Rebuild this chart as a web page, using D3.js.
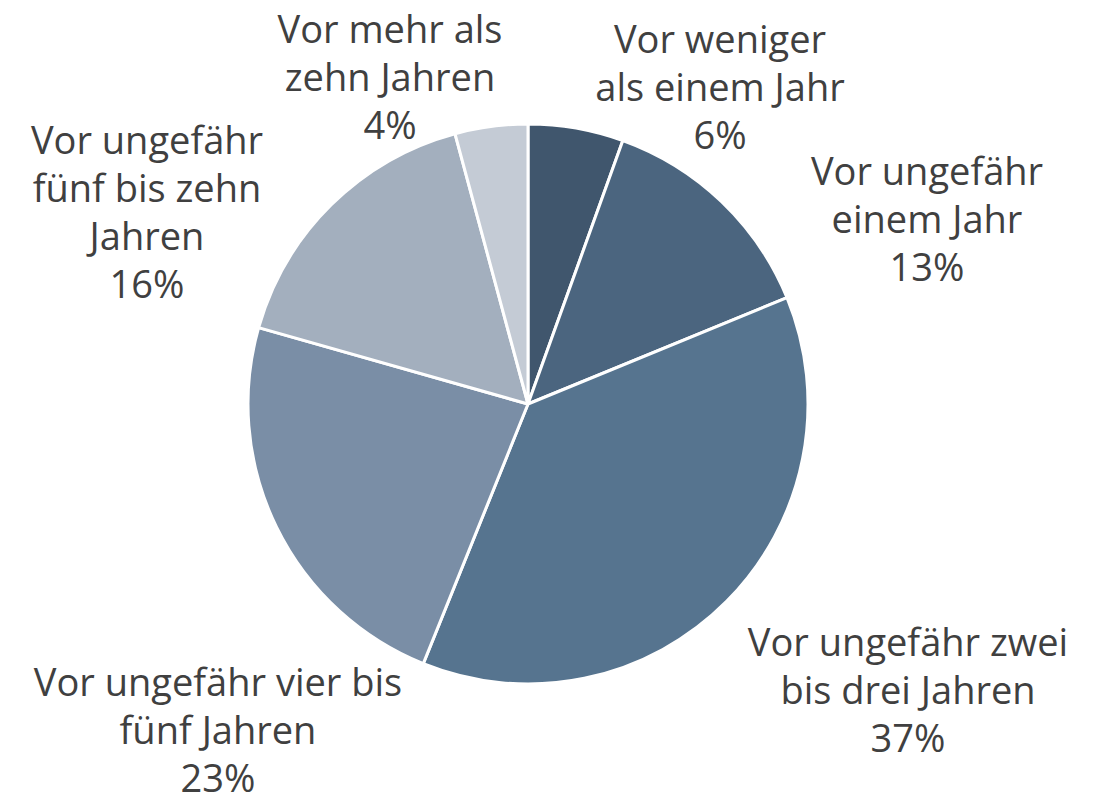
<!DOCTYPE html>
<html>
<head>
<meta charset="utf-8">
<script src="https://cdn.jsdelivr.net/npm/d3@7"></script>
<style>
  body { margin: 0; background: #fff; }
</style>
</head>
<body>
<div id="chart"></div>
<script>
// slices, clockwise from 12 o'clock
var categories = [
  "Vor weniger als einem Jahr",
  "Vor ungefähr einem Jahr",
  "Vor ungefähr zwei bis drei Jahren",
  "Vor ungefähr vier bis fünf Jahren",
  "Vor ungefähr fünf bis zehn Jahren",
  "Vor mehr als zehn Jahren"
];
var shares = [5.5, 13.3, 37.3, 23.3, 16.4, 4.2];
var colors = ["#40566d", "#4b657f", "#56748f", "#7a8ea6", "#a3afbe", "#c4cbd5"];

// how each label is broken into lines (percent line is added below)
var labelLines = [
  ["Vor weniger", "als einem Jahr"],
  ["Vor ungefähr", "einem Jahr"],
  ["Vor ungefähr zwei", "bis drei Jahren"],
  ["Vor ungefähr vier bis", "fünf Jahren"],
  ["Vor ungefähr", "fünf bis zehn", "Jahren"],
  ["Vor mehr als", "zehn Jahren"]
];

var width = 1107, height = 802;
var cx = 528, cy = 404, radius = 280;
var lineH = 48;

// label block centres, relative to the pie centre
var labelPos = [
  [192, -316],
  [399, -184],
  [380, 287],
  [-310, 327],
  [-381, -191],
  [-138, -326]
];

var svg = d3.select("#chart")
  .append("svg")
    .attr("width", width)
    .attr("height", height)
  .append("g")
    .attr("transform", "translate(" + cx + "," + cy + ")");

var pie = d3.pie()
  .value(function(d) { return d; })
  .sort(null);

var arc = d3.arc()
  .innerRadius(0)
  .outerRadius(radius);

var arcs = pie(shares);

svg.selectAll("path.slice")
  .data(arcs)
  .enter()
  .append("path")
    .attr("class", "slice")
    .attr("d", arc)
    .attr("fill", function(d, i) { return colors[i]; })
    .attr("stroke", "#fff")
    .attr("stroke-width", 3)
    .attr("stroke-linejoin", "round");

// labels
var labels = svg.selectAll("text.label")
  .data(arcs)
  .enter()
  .append("text")
    .attr("class", "label")
    .attr("text-anchor", "middle")
    .attr("font-family", "'Open Sans', 'Noto Sans', sans-serif")
    .attr("font-size", "38px")
    .attr("fill", "#404040")
    .attr("transform", function(d, i) {
      return "translate(" + labelPos[i][0] + "," + labelPos[i][1] + ")";
    });

labels.each(function(d, i) {
  var lines = labelLines[i].concat([Math.round(d.data) + "%"]);
  var top = -(lines.length - 1) / 2 * lineH;
  d3.select(this).selectAll("tspan")
    .data(lines)
    .enter()
    .append("tspan")
      .attr("x", 0)
      .attr("y", function(t, j) { return top + j * lineH; })
      .attr("dy", "0.35em")
      .text(function(t) { return t; });
});
</script>
</body>
</html>
